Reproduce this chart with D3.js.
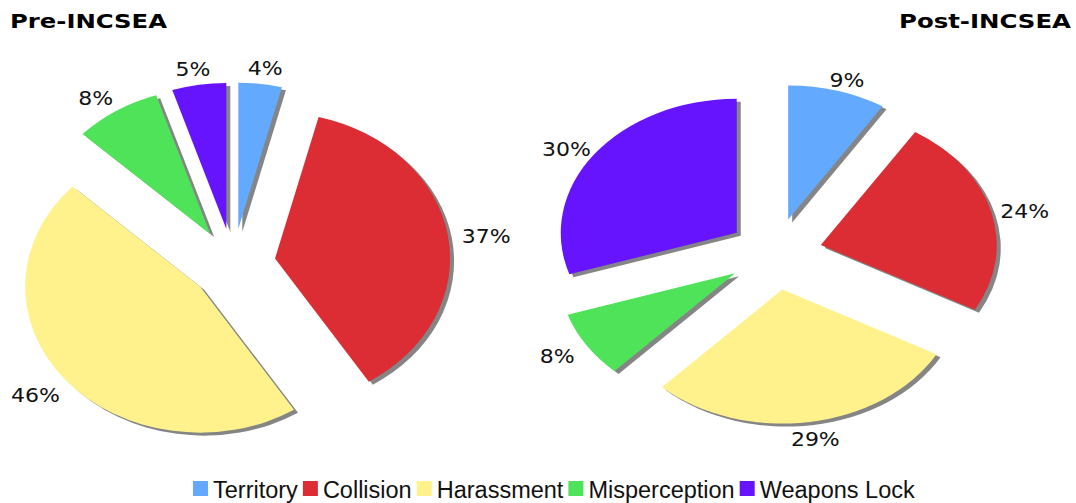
<!DOCTYPE html>
<html>
<head>
<meta charset="utf-8">
<script src="https://cdn.jsdelivr.net/npm/d3@7"></script>
<style>
  html, body { margin: 0; padding: 0; background: #fff; }
  svg { display: block; }
</style>
</head>
<body>
<svg id="chart" width="1076" height="503"></svg>
<script>
// Incident categories and their share of incidents (%), before and after the agreement
const categories = ["Territory", "Collision", "Harassment", "Misperception", "Weapons Lock"];
const preValues  = [4, 37, 46, 8, 5];
const postValues = [9, 24, 29, 8, 30];
const titles = ["Pre-INCSEA", "Post-INCSEA"];

const palette = ["#63a9fd", "#dc2d34", "#fff28c", "#4fe35a", "#6514fd"];
const color = d3.scaleOrdinal().domain(categories).range(palette);

const svg = d3.select("#chart");

// exploded, slightly flattened pies with a drop shadow under every wedge
const pies = [
  { values: preValues,  cx: 233, cy: 264, rx: 175, ry: 146, explode: 35.5 },
  { values: postValues, cx: 775, cy: 254, rx: 176, ry: 134, explode: 36 }
];

const pieGen = d3.pie().sort(null).value(d => d).startAngle(0).endAngle(2 * Math.PI);
const unitArc = d3.arc().innerRadius(0).outerRadius(1);

pies.forEach((p, pi) => {
  const arcs = pieGen(p.values).map((a, i) => {
    const mid = (a.startAngle + a.endAngle) / 2;
    return {
      ...a,
      cat: categories[i],
      mid,
      ox: p.cx + (p.rx / p.ry) * p.explode * Math.sin(mid),
      oy: p.cy - p.explode * Math.cos(mid)
    };
  });

  const g = svg.append("g").attr("class", "pie pie-" + pi);

  g.append("g").attr("class", "shadows")
    .selectAll("path").data(arcs).join("path")
    .attr("d", unitArc)
    .attr("transform", d => `translate(${d.ox + 4},${d.oy + 3}) scale(${p.rx},${p.ry})`)
    .attr("fill", "#858585");

  g.append("g").attr("class", "slices")
    .selectAll("path").data(arcs).join("path")
    .attr("d", unitArc)
    .attr("transform", d => `translate(${d.ox},${d.oy}) scale(${p.rx},${p.ry})`)
    .attr("fill", d => color(d.cat));

  g.append("g").attr("class", "labels")
    .selectAll("text").data(arcs).join("text")
    .attr("transform", d => {
      const x = p.cx + 1.465 * p.rx * Math.sin(d.mid);
      const y = p.cy - 1.375 * p.ry * Math.cos(d.mid);
      return `translate(${x},${y}) scale(1.1,1)`;
    })
    .attr("text-anchor", "middle")
    .attr("dy", "0.5em")
    .attr("font-family", "'DejaVu Sans', Verdana, sans-serif")
    .attr("font-size", 20)
    .attr("fill", "#111")
    .text(d => d.value + "%");
});

// chart titles
svg.append("text")
  .attr("x", 10).attr("y", 27.5)
  .attr("font-family", "'DejaVu Sans', Verdana, sans-serif")
  .attr("font-weight", "bold").attr("font-size", 20)
  .attr("textLength", 157).attr("lengthAdjust", "spacingAndGlyphs")
  .text(titles[0]);

svg.append("text")
  .attr("x", 1071).attr("y", 27.5)
  .attr("text-anchor", "end")
  .attr("font-family", "'DejaVu Sans', Verdana, sans-serif")
  .attr("font-weight", "bold").attr("font-size", 20)
  .attr("textLength", 172).attr("lengthAdjust", "spacingAndGlyphs")
  .text(titles[1]);

// legend row along the bottom
const legend = svg.append("g").attr("class", "legend");
const sq = 15, gapAfterSq = 5, gapAfterText = 5;
let lx = 193;
categories.forEach(c => {
  const item = legend.append("g");
  item.append("rect")
    .attr("x", lx).attr("y", 481)
    .attr("width", sq).attr("height", sq)
    .attr("fill", color(c));
  const t = item.append("text")
    .attr("x", lx + sq + gapAfterSq).attr("y", 498)
    .attr("font-family", "'Liberation Sans', Arial, sans-serif")
    .attr("font-size", 23.5)
    .attr("fill", "#111")
    .text(c);
  lx += sq + gapAfterSq + t.node().getComputedTextLength() + gapAfterText;
});
</script>
</body>
</html>
